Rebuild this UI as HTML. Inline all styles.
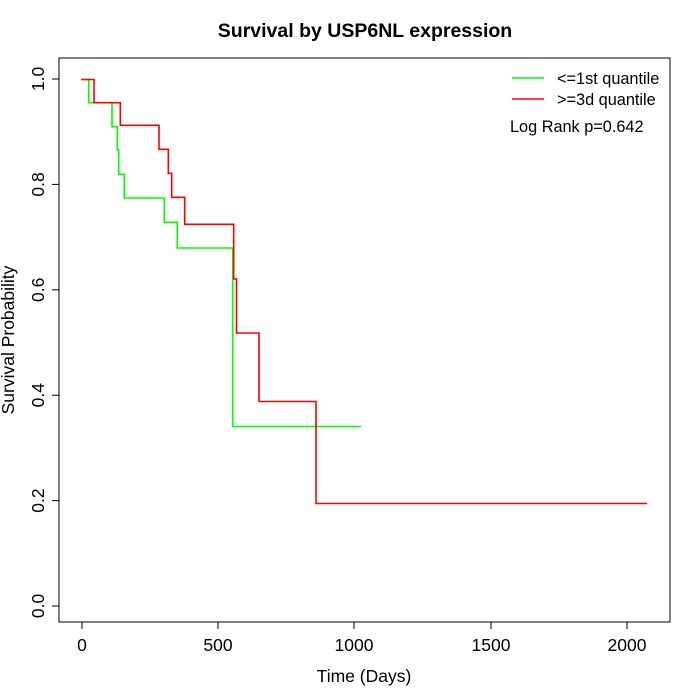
<!DOCTYPE html>
<html><head><style>body{margin:0;background:#fff}svg{display:block}</style></head><body>
<svg width="700" height="700" xmlns="http://www.w3.org/2000/svg" font-family="Liberation Sans, sans-serif">
<rect width="700" height="700" fill="#fff"/>
<text x="365" y="37" text-anchor="middle" font-size="19.5" font-weight="bold">Survival by USP6NL expression</text>
<rect x="59" y="58" width="611" height="564" fill="none" stroke="#000"/>
<g stroke="#000" fill="none">
<line x1="82" y1="622" x2="627" y2="622"/>
<line x1="82" y1="622" x2="82" y2="629"/><line x1="218" y1="622" x2="218" y2="629"/><line x1="354" y1="622" x2="354" y2="629"/><line x1="491" y1="622" x2="491" y2="629"/><line x1="627" y1="622" x2="627" y2="629"/>
<line x1="59" y1="79" x2="59" y2="606"/>
<line x1="52" y1="79" x2="59" y2="79"/><line x1="52" y1="184.4" x2="59" y2="184.4"/><line x1="52" y1="289.8" x2="59" y2="289.8"/><line x1="52" y1="395.2" x2="59" y2="395.2"/><line x1="52" y1="500.6" x2="59" y2="500.6"/><line x1="52" y1="606" x2="59" y2="606"/>
</g>
<g font-size="17.5" text-anchor="middle">
<text x="82" y="651">0</text><text x="218" y="651">500</text><text x="354" y="651">1000</text><text x="491" y="651">1500</text><text x="627" y="651">2000</text>
<text x="364" y="682">Time (Days)</text>
<g transform="rotate(-90)">
<text x="-79" y="44">1.0</text><text x="-184.4" y="44">0.8</text><text x="-289.8" y="44">0.6</text><text x="-395.2" y="44">0.4</text><text x="-500.6" y="44">0.2</text><text x="-606" y="44">0.0</text>
<text x="-340" y="14">Survival Probability</text>
</g>
</g>
<polyline fill="none" stroke="#00ff00" stroke-width="1.6" points="81,79.5 88.7,79.5 88.7,102.7 112,102.7 112,126.7 117.3,126.7 117.3,150 118.7,150 118.7,174.3 124.3,174.3 124.3,198 164.3,198 164.3,222.3 177.3,222.3 177.3,248 232.7,248 232.7,426.5 361,426.5"/>
<polyline fill="none" stroke="#ff0000" stroke-width="1.6" points="81,79.5 94,79.5 94,102.7 120.3,102.7 120.3,125.3 159,125.3 159,149.3 168.3,149.3 168.3,173.3 171.7,173.3 171.7,197.3 184.7,197.3 184.7,224.3 233.7,224.3 233.7,279 236.5,279 236.5,333 259,333 259,401.5 316,401.5 316,503.5 647,503.5"/>
<line x1="512" y1="78" x2="544" y2="78" stroke="#00ff00" stroke-width="1.6"/>
<line x1="512" y1="99" x2="544" y2="99" stroke="#ff0000" stroke-width="1.6"/>
<g font-size="16.3">
<text x="557" y="84">&lt;=1st quantile</text>
<text x="557" y="105">&gt;=3d quantile</text>
<text x="510" y="132">Log Rank p=0.642</text>
</g>
</svg>
</body></html>
